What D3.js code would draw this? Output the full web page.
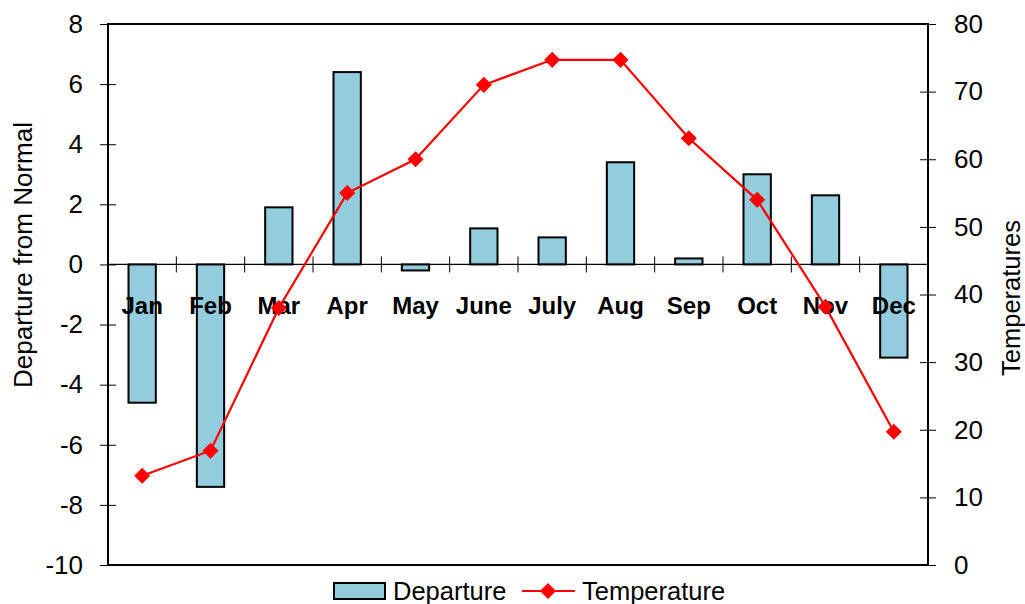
<!DOCTYPE html>
<html>
<head>
<meta charset="utf-8">
<script src="https://cdn.jsdelivr.net/npm/d3@7"></script>
<style>
  body { margin: 0; background: #fff; }
  text { font-family: "Liberation Sans", Arial, sans-serif; }
</style>
</head>
<body>
<div id="chart"></div>
<script>
// chart values
const months = ["Jan","Feb","Mar","Apr","May","June","July","Aug","Sep","Oct","Nov","Dec"];
const departure = [-4.6, -7.4, 1.9, 6.4, -0.2, 1.2, 0.9, 3.4, 0.2, 3.0, 2.3, -3.1];
const temperature = [13.2, 16.9, 38.0, 55.0, 60.0, 71.0, 74.7, 74.7, 63.1, 54.0, 38.2, 19.7];
const leftTicks = [-10, -8, -6, -4, -2, 0, 2, 4, 6, 8];
const rightTicks = [0, 10, 20, 30, 40, 50, 60, 70, 80];

const width = 1025, height = 604;
const margin = {top: 24, right: 97, bottom: 39, left: 108};
const barColor = "#93cddd";
const lineColor = "#ff0000";

const svg = d3.select("#chart").append("svg")
  .attr("width", width)
  .attr("height", height);

// one band per month, bars take 40% of it
const xCat = d3.scaleBand().domain(months).range([margin.left, width - margin.right]);
const yL = d3.scaleLinear().domain([-10, 8]).range([height - margin.bottom, margin.top]);
const yR = d3.scaleLinear().domain([0, 80]).range([height - margin.bottom, margin.top]);

// bars
svg.selectAll(".bar")
  .data(departure)
  .join("rect")
  .attr("class", "bar")
  .attr("x", (d, i) => xCat(months[i]) + xCat.bandwidth() * 0.3)
  .attr("width", xCat.bandwidth() * 0.4)
  .attr("y", d => yL(Math.max(0, d)))
  .attr("height", d => Math.abs(yL(d) - yL(0)))
  .attr("fill", barColor)
  .attr("stroke", "#000")
  .attr("stroke-width", 2);

// zero line with crossing ticks at category boundaries
const zeroY = yL(0);
svg.append("line")
  .attr("x1", margin.left).attr("x2", width - margin.right)
  .attr("y1", zeroY).attr("y2", zeroY)
  .attr("stroke", "#000").attr("stroke-width", 1.3);
svg.selectAll(".ctick")
  .data(months.slice(1))
  .join("line")
  .attr("class", "ctick")
  .attr("x1", d => xCat(d)).attr("x2", d => xCat(d))
  .attr("y1", zeroY - 8).attr("y2", zeroY + 8)
  .attr("stroke", "#000").attr("stroke-width", 1);

// category labels
svg.selectAll(".clabel")
  .data(months)
  .join("text")
  .attr("class", "clabel")
  .attr("x", d => xCat(d) + xCat.bandwidth() / 2)
  .attr("y", zeroY + 50)
  .attr("text-anchor", "middle")
  .style("font-size", "24px")
  .style("font-weight", "bold")
  .text(d => d);

// plot frame
svg.append("rect")
  .attr("x", margin.left).attr("y", margin.top)
  .attr("width", width - margin.left - margin.right)
  .attr("height", height - margin.top - margin.bottom)
  .attr("fill", "none")
  .attr("stroke", "#000").attr("stroke-width", 2);

// left axis
const axL = svg.append("g")
  .attr("transform", `translate(${margin.left},0)`)
  .call(d3.axisLeft(yL).tickValues(leftTicks).tickFormat(d => d)
    .tickSizeInner(8).tickSizeOuter(0).tickPadding(17));
axL.select(".domain").remove();
axL.selectAll(".tick line").attr("x2", 8).attr("x1", -8);
axL.selectAll(".tick text").style("font-size", "26px").attr("fill", "#000");

// right axis
const axR = svg.append("g")
  .attr("transform", `translate(${width - margin.right},0)`)
  .call(d3.axisRight(yR).tickValues(rightTicks).tickFormat(d => d)
    .tickSizeInner(8).tickSizeOuter(0).tickPadding(18));
axR.select(".domain").remove();
axR.selectAll(".tick line").attr("x1", -8).attr("x2", 8);
axR.selectAll(".tick text").style("font-size", "26px").attr("fill", "#000");

// axis titles
svg.append("text")
  .attr("transform", "translate(32,255) rotate(-90)")
  .attr("text-anchor", "middle")
  .style("font-size", "26px")
  .text("Departure from Normal");
svg.append("text")
  .attr("transform", "translate(1020,298) rotate(-90)")
  .attr("text-anchor", "middle")
  .style("font-size", "25.5px")
  .text("Temperatures");

// temperature line
const cx = i => xCat(months[i]) + xCat.bandwidth() / 2;
const line = d3.line().x((d, i) => cx(i)).y(d => yR(d));
svg.append("path")
  .datum(temperature)
  .attr("d", line)
  .attr("fill", "none")
  .attr("stroke", lineColor)
  .attr("stroke-width", 2.2);

const diamond = d3.symbol().type(d3.symbolDiamond2).size(165);
svg.selectAll(".pt")
  .data(temperature)
  .join("path")
  .attr("class", "pt")
  .attr("d", diamond)
  .attr("transform", (d, i) => `translate(${cx(i)},${yR(d)})`)
  .attr("fill", lineColor);

// legend
const lg = svg.append("g").attr("transform", "translate(0,591)");
lg.append("rect")
  .attr("x", 334).attr("y", -8).attr("width", 51).attr("height", 16)
  .attr("fill", barColor).attr("stroke", "#000").attr("stroke-width", 2);
lg.append("text").attr("x", 393).attr("y", 9).style("font-size", "25.5px").text("Departure");
lg.append("line")
  .attr("x1", 522).attr("x2", 575).attr("y1", 0).attr("y2", 0)
  .attr("stroke", lineColor).attr("stroke-width", 2.2);
lg.append("path")
  .attr("d", diamond)
  .attr("transform", "translate(548,0)")
  .attr("fill", lineColor);
lg.append("text").attr("x", 582).attr("y", 9).style("font-size", "25.5px").text("Temperature");
</script>
</body>
</html>
